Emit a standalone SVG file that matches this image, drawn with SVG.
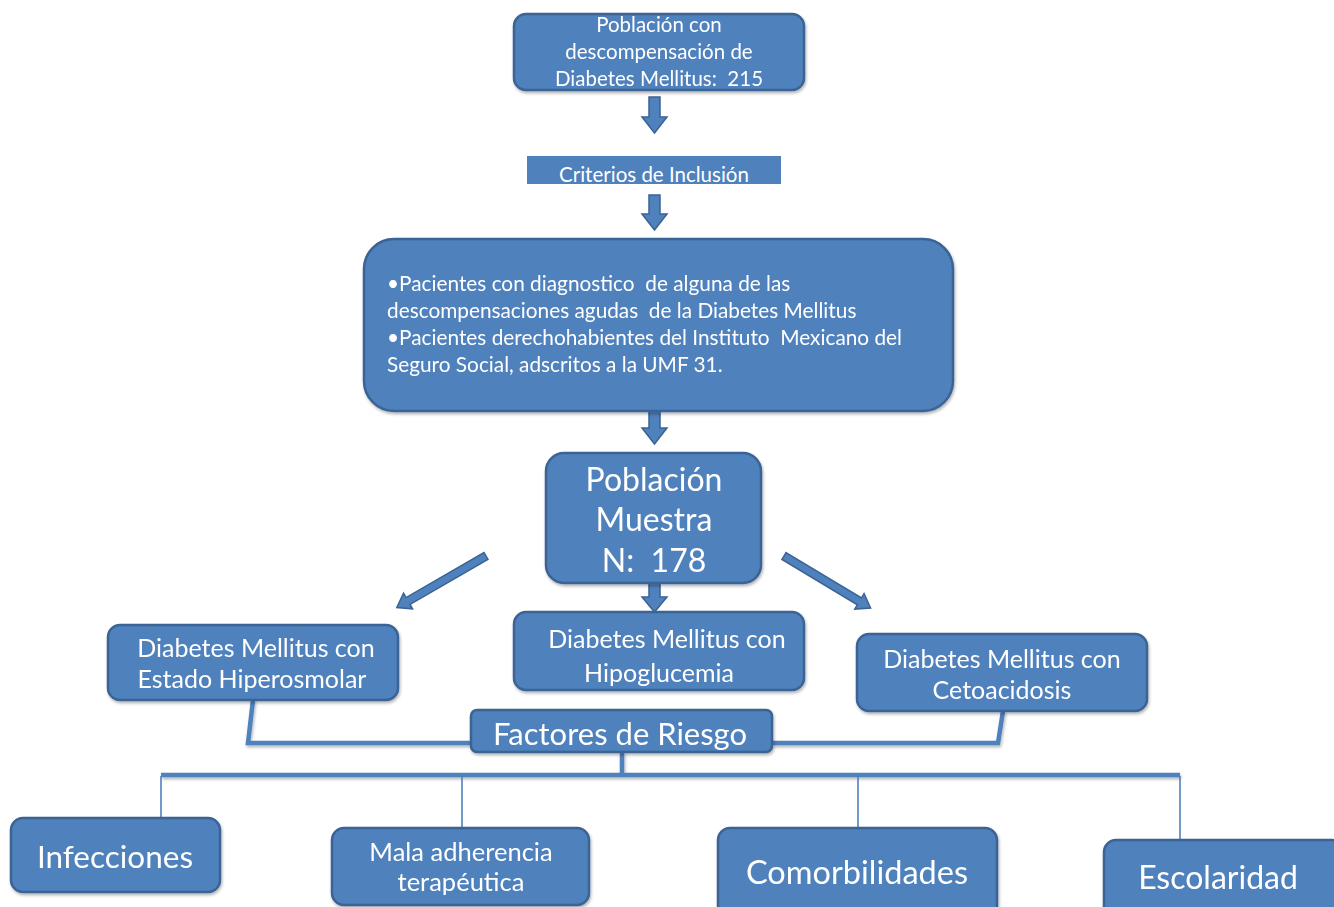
<svg xmlns="http://www.w3.org/2000/svg" width="1334" height="907" viewBox="0 0 1334 907">
<defs>
<style>
.box{fill:#4F81BD;stroke:#3A6393;stroke-width:2.5}
.t{fill:#fff;font-family:Lato,"Open Sans",sans-serif;text-anchor:middle}
.tl{fill:#fff;font-family:Lato,"Open Sans",sans-serif;text-anchor:start}
.arr{fill:#4F81BD;stroke:#3A6393;stroke-width:1.5}
.thick{fill:none;stroke:#4F81BD;stroke-width:4.5}
.thin{fill:none;stroke:#4F81BD;stroke-width:1.6}
</style>
<filter id="sh" x="-10%" y="-10%" width="120%" height="130%">
<feDropShadow dx="1" dy="2" stdDeviation="1.5" flood-color="#000" flood-opacity="0.3"/>
</filter>
</defs>
<rect width="1334" height="907" fill="#fff"/>
<g id="connectors">
<path class="arr" d="M649,97 H660 V117 H667 L654.5,133 L642,117 H649 Z"/>
<path class="arr" d="M649,195 H660 V214 H667 L654.5,230 L642,214 H649 Z"/>
<path class="arr" d="M649,411 H660 V428 H667 L654.5,444 L642,428 H649 Z"/>
<path class="arr" d="M649,583 H660 V597 H667 L654.5,612 L642,597 H649 Z"/>
<g transform="translate(486,556) rotate(150)"><path class="arr" d="M0,-4 H90 V-9 L103,0 L90,9 V4 H0 Z"/></g>
<g transform="translate(784,556) rotate(31)"><path class="arr" d="M0,-4 H88 V-9 L101,0 L88,9 V4 H0 Z"/></g>
<g filter="url(#sh)">
<path class="thick" d="M253,700 L248,743 H471"/>
<path class="thick" d="M772,743 H998 L1003,711"/>
<path class="thick" d="M622,752 V775"/>
<path class="thick" d="M161,775 H1180"/>
</g>
<path class="thin" d="M161,776 V818 M462,776 V828 M858,776 V828 M1180,776 V840"/>
</g>
<g id="n1" filter="url(#sh)"><rect class="box" x="514" y="14" width="290" height="76" rx="12"/>
<text class="t" font-size="20.5" xml:space="preserve"><tspan x="659" y="32">Población con</tspan><tspan x="659" y="59">descompensación de</tspan><tspan x="659" y="86">Diabetes Mellitus:  215</tspan></text></g>
<g id="n2"><rect x="527" y="156" width="254" height="28" fill="#4F81BD"/>
<text class="t" font-size="20.5" x="654" y="182">Criterios de Inclusión</text></g>
<g id="n3" filter="url(#sh)"><rect class="box" x="364" y="239" width="589" height="172" rx="30"/>
<text class="tl" font-size="20.8" xml:space="preserve"><tspan x="387" y="291">•Pacientes con diagnostico  de alguna de las</tspan><tspan x="387" y="318">descompensaciones agudas  de la Diabetes Mellitus</tspan><tspan x="387" y="345">•Pacientes derechohabientes del Instituto  Mexicano del</tspan><tspan x="387" y="372">Seguro Social, adscritos a la UMF 31.</tspan></text></g>
<g id="n4" filter="url(#sh)"><rect class="box" x="546" y="453" width="215" height="130" rx="18"/>
<text class="t" font-size="32" xml:space="preserve"><tspan x="654" y="491">Población</tspan><tspan x="654" y="531">Muestra</tspan><tspan x="654" y="572">N:  178</tspan></text></g>
<g id="n5" filter="url(#sh)"><rect class="box" x="108" y="625" width="290" height="75" rx="12"/>
<text class="t" font-size="25"><tspan x="256" y="657">Diabetes Mellitus con</tspan><tspan x="252" y="688">Estado Hiperosmolar</tspan></text></g>
<g id="n6" filter="url(#sh)"><rect class="box" x="514" y="612" width="290" height="78" rx="12"/>
<text class="t" font-size="25"><tspan x="667" y="648">Diabetes Mellitus con</tspan><tspan x="659" y="682">Hipoglucemia</tspan></text></g>
<g id="n7" filter="url(#sh)"><rect class="box" x="857" y="634" width="290" height="77" rx="12"/>
<text class="t" font-size="25"><tspan x="1002" y="668">Diabetes Mellitus con</tspan><tspan x="1002" y="699">Cetoacidosis</tspan></text></g>
<g id="n8" filter="url(#sh)"><rect class="box" x="471" y="710" width="301" height="42" rx="6"/>
<text class="t" font-size="31" x="620" y="745">Factores de Riesgo</text></g>
<g id="n9" filter="url(#sh)"><rect class="box" x="11" y="818" width="209" height="74" rx="12"/>
<text class="t" font-size="31.5" x="115" y="868">Infecciones</text></g>
<g id="n10" filter="url(#sh)"><rect class="box" x="332" y="828" width="257" height="77" rx="12"/>
<text class="t" font-size="25.5"><tspan x="461" y="861">Mala adherencia</tspan><tspan x="461" y="891">terapéutica</tspan></text></g>
<g id="n11" filter="url(#sh)"><rect class="box" x="718" y="828" width="279" height="90" rx="12"/>
<text class="t" font-size="32.5" x="857" y="884">Comorbilidades</text></g>
<g id="n12" filter="url(#sh)"><rect class="box" x="1104" y="840" width="240" height="80" rx="12"/>
<text class="t" font-size="32" x="1218" y="889">Escolaridad</text></g>
</svg>
